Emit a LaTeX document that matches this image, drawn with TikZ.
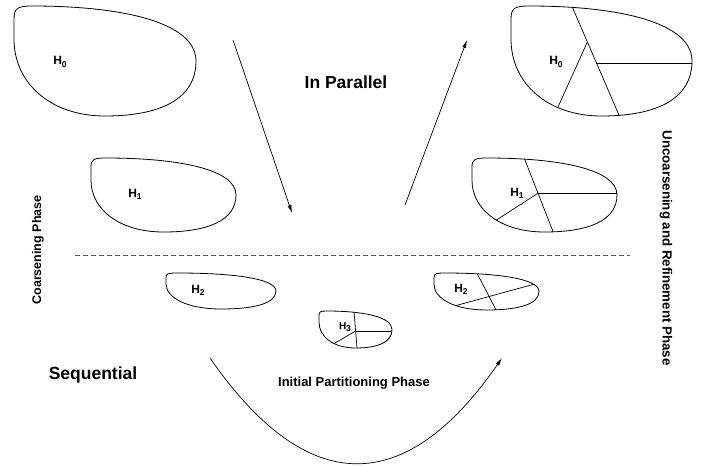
\documentclass[tikz,border=0pt]{standalone}
\usepackage{fontspec}
\setmainfont{Liberation Sans}
\usepackage{tikz}
\usetikzlibrary{arrows.meta,positioning}
\definecolor{dashgray}{RGB}{90,90,90}

% outline of one hypergraph, drawn in a unit box (y grows downwards)
\newcommand{\blobpath}{(0,0.3) -- (0,0.12) .. controls (0,0.02) and (0.02,0) .. (0.1,0) .. controls (0.6,0) and (1,0.15) .. (1,0.5) .. controls (1,0.85) and (0.8,1) .. (0.5,1) .. controls (0.2,1) and (0,0.7) .. cycle}
% level subscript
\newcommand{\lvl}[1]{\raisebox{-0.35ex}{\fontsize{8.5}{9}\selectfont #1}}

\begin{document}
\begin{tikzpicture}[
    x=1pt, y=-1pt,
    outline/.style={draw=black, line width=0.8pt},
    cut/.style={draw=black, line width=0.7pt},
    hlabel/.style={font=\fontsize{12}{13}\selectfont\bfseries, inner sep=0pt},
    smalllabel/.style={font=\fontsize{10}{11}\selectfont\bfseries, inner sep=0pt},
    phase/.style={font=\fontsize{17.5}{19}\selectfont\bfseries, inner sep=0pt},
    arrow/.style={-{Latex[length=8pt,width=4pt]}, line width=0.7pt}
]
\useasboundingbox (0,0) rectangle (705,466);

% coarsening side
\begin{scope}[shift={(14,6)}, x=182pt, y=-110pt]
  \draw[outline] \blobpath;
\end{scope}
\begin{scope}[shift={(91,158)}, x=145pt, y=-74pt]
  \draw[outline] \blobpath;
\end{scope}
\begin{scope}[shift={(166,273)}, x=110pt, y=-36pt]
  \draw[outline] \blobpath;
\end{scope}

% initial partition
\begin{scope}[shift={(319,311)}, x=73pt, y=-37pt]
  \begin{scope}
    \clip \blobpath;
    \draw[cut] (0.475,-0.1) -- (0.525,1.1);
    \draw[cut] (0.502,0.54) -- (1.1,0.54);
    \draw[cut] (0.502,0.54) -- (0.134,0.963);
  \end{scope}
  \draw[outline] \blobpath;
\end{scope}

% uncoarsening side
\begin{scope}[shift={(434,273)}, x=105pt, y=-37pt]
  \begin{scope}
    \clip \blobpath;
    \draw[cut] (0.39,-0.1) -- (0.61,1.1);
    \draw[cut] (0.075,0.984) -- (1.15,0.15);
  \end{scope}
  \draw[outline] \blobpath;
\end{scope}
\begin{scope}[shift={(472,158)}, x=145pt, y=-74pt]
  \begin{scope}
    \clip \blobpath;
    \draw[cut] (0.34,-0.1) -- (0.58,1.1);
    \draw[cut] (0.457,0.473) -- (1.1,0.473);
    \draw[cut] (0.457,0.473) -- (0.07,0.964);
  \end{scope}
  \draw[outline] \blobpath;
\end{scope}
\begin{scope}[shift={(511,6)}, x=181pt, y=-110pt]
  \begin{scope}
    \clip \blobpath;
    \draw[cut] (0.31,-0.1) -- (0.625,1.1);
    \draw[cut] (0.472,0.518) -- (1.1,0.518);
    \draw[cut] (0.422,0.327) -- (0.211,1.095);
  \end{scope}
  \draw[outline] \blobpath;
\end{scope}

% labels
\node[hlabel] (h0l) at (60,62) {H\lvl{0}};
\node[hlabel] (h1l) at (135,194) {H\lvl{1}};
\node[hlabel] (h2l) at (198,290) {H\lvl{2}};
\node[smalllabel] (h3) at (345,327) {H\lvl{3}};
\node[hlabel] (h2r) at (461,289) {H\lvl{2}};
\node[hlabel] (h1r) at (517,193) {H\lvl{1}};
\node[hlabel] (h0r) at (556,62) {H\lvl{0}};

\node[phase] (parallel) at (346,82) {In Parallel};
\node[phase] (sequential) at (93,375) {Sequential};
\node[font=\fontsize{13}{15}\selectfont\bfseries, inner sep=0pt] (initial) at (354,383) {Initial Partitioning Phase};
\node[font=\fontsize{12.5}{14}\selectfont\bfseries, inner sep=0pt, rotate=90] (coarse) at (38,250) {Coarsening Phase};
\node[font=\fontsize{13.3}{15}\selectfont\bfseries, inner sep=0pt, rotate=-90] (uncoarse) at (666,248) {Uncoarsening and Refinement Phase};

% phase separator
\coordinate (sepl) at (75,255);
\coordinate (sepr) at (630,255);
\draw[dashgray, line width=0.8pt, dash pattern=on 5pt off 3pt] (sepl) -- (sepr);

% arrows
\coordinate (downa) at (233,40);
\coordinate (downb) at (292,213);
\coordinate (upa) at (405,205);
\coordinate (upb) at (467,40);
\coordinate (seqa) at (210,358);
\coordinate (seqb) at (502,358);
\draw[arrow] (downa) -- (downb);
\draw[arrow] (upa) -- (upb);
\draw[arrow] (seqa) .. controls (307,498) and (405,498) .. (seqb);

\end{tikzpicture}
\end{document}
